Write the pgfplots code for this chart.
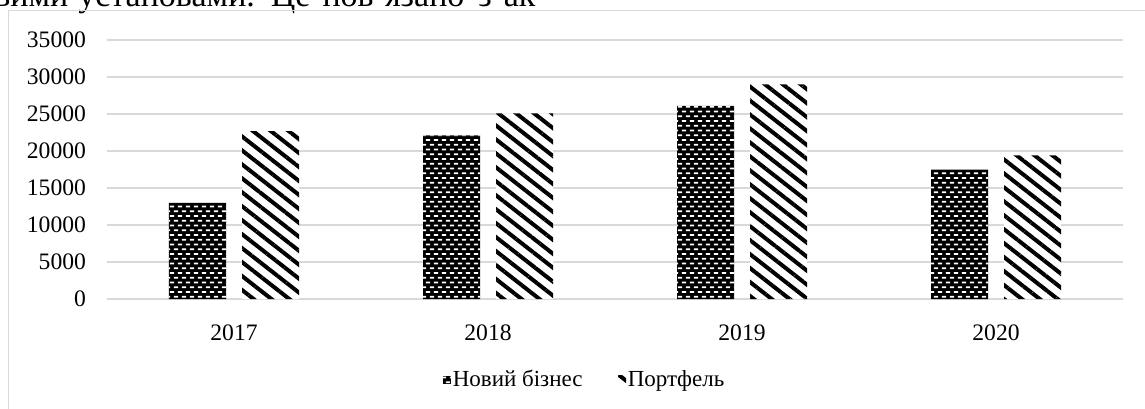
\documentclass[border=0pt]{standalone}
\usepackage{pgfplots}
\pgfplotsset{compat=1.18}
\usepackage{fontspec}
\setmainfont{Liberation Serif}
\usetikzlibrary{patterns,patterns.meta}
\definecolor{gridgray}{HTML}{D9D9D9}
\pgfdeclarepatternformonly{xlbrick}{\pgfqpoint{-0.1pt}{-0.1pt}}{\pgfqpoint{4.1pt}{4.85pt}}{\pgfqpoint{4pt}{4.75pt}}{%
  \pgfpathrectangle{\pgfqpoint{0.9pt}{0.6pt}}{\pgfqpoint{2.2pt}{0.8pt}}%
  \pgfpathrectangle{\pgfqpoint{0pt}{2.975pt}}{\pgfqpoint{1.1pt}{0.8pt}}%
  \pgfpathrectangle{\pgfqpoint{2.9pt}{2.975pt}}{\pgfqpoint{1.1pt}{0.8pt}}%
  \pgfusepath{fill}%
}
\pgfplotstableread{
x nb pf
0 13000 22700
1 22100 25100
2 26100 29000
3 17500 19400
}\datatable
\begin{document}
\begin{tikzpicture}
\path[use as bounding box] (0,0) rectangle (572.5pt,204pt);
\node[anchor=base west, inner sep=0, font=\fontsize{17}{20}\selectfont] at (-3pt,200.5pt) {вими\hspace{5pt}установами.\hspace{8pt}Це\hspace{6pt}пов’язано\hspace{7pt}з\hspace{6pt}ак};
\draw[gridgray, line width=0.75pt] (4.25pt,-10pt) -- (4.25pt,198.75pt) -- (600pt,198.75pt);
\begin{axis}[
  at={(53.5pt,54.5pt)}, anchor=south west,
  scale only axis, width=508pt, height=129.5pt,
  ybar, bar width=28.5pt,
  xmin=-0.5, xmax=3.5, ymin=0, ymax=35000,
  xtick={0,1,2,3}, xticklabels={2017,2018,2019,2020},
  ytick={0,5000,...,35000},
  ymajorgrids, grid style={gridgray, line width=0.75pt},
  axis line style={draw=none}, tick style={draw=none},
  /pgf/number format/assume math mode=true,
  /pgf/number format/1000 sep={},
  scaled y ticks=false,
  tick label style={font=\fontsize{11.8}{13}\selectfont},
  yticklabel style={xshift=-7pt},
  xticklabel style={yshift=-5pt},
  legend style={at={(0.47,-0.3127)}, anchor=center, draw=none, fill=none,
    font=\fontsize{11.5}{13}\selectfont, legend columns=2,
    /tikz/every even column/.append style={column sep=17pt},
    nodes={inner sep=0.8pt}},
  legend image code/.code={\fill[#1] (0pt,-2pt) rectangle (4pt,2pt);},
]
\addplot[bar shift=-18.25pt, draw=none, fill=black, postaction={pattern=xlbrick, pattern color=white}] table[x=x, y=nb] {\datatable};
\addplot[bar shift=18.25pt, draw=none, fill=white, postaction={pattern={Lines[angle=-38, distance=5.5pt, line width=2pt]}, pattern color=black}] table[x=x, y=pf] {\datatable};
\legend{Новий бізнес, Портфель}
\end{axis}
\end{tikzpicture}
\end{document}
